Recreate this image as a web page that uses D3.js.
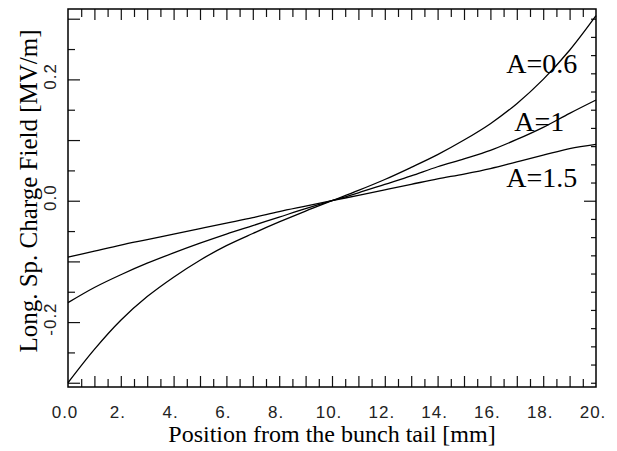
<!DOCTYPE html>
<html>
<head>
	<meta charset="utf-8">
	<title>Long. Sp. Charge Field</title>
	<script type="text/javascript" src="https://cdn.jsdelivr.net/npm/d3@7"></script>
	<style>
		body {
			margin: 0;
			background: #fff;
		}
	</style>
</head>

<body>

	<div id="chart"></div>

	<script>

		// data

		const positions = [0, 1, 2, 3, 4, 5, 6, 7, 8, 9, 10, 11, 12, 13, 14, 15, 16, 17, 18, 19, 20];

		const fieldA06 = [-0.300, -0.245, -0.197, -0.158, -0.126, -0.098, -0.074, -0.054, -0.035, -0.017, 0.000,
			0.017, 0.035, 0.055, 0.076, 0.100, 0.127, 0.160, 0.200, 0.248, 0.305];
		const fieldA1 = [-0.168, -0.143, -0.122, -0.103, -0.086, -0.070, -0.055, -0.041, -0.027, -0.013, 0.000,
			0.013, 0.027, 0.041, 0.056, 0.069, 0.083, 0.101, 0.121, 0.144, 0.166];
		const fieldA15 = [-0.093, -0.083, -0.073, -0.064, -0.055, -0.046, -0.037, -0.028, -0.018, -0.009, 0.000,
			0.009, 0.018, 0.027, 0.036, 0.044, 0.053, 0.064, 0.075, 0.086, 0.093];

		const seriesNames = ["A=0.6", "A=1", "A=1.5"];

		const xTickValues = [0, 2, 4, 6, 8, 10, 12, 14, 16, 18, 20];
		const xTickLabels = ["0.0", "2.", "4.", "6.", "8.", "10.", "12.", "14.", "16.", "18.", "20."];
		const yTickValues = [-0.2, 0.0, 0.2];
		const yTickLabels = ["-0.2", "0.0", "0.2"];

		const xTitle = "Position from the bunch tail [mm]";
		const yTitle = "Long. Sp. Charge Field [MV/m]";

		// layout

		const width  = 617;
		const height = 451;
		const margin = { top: 9, right: 21, bottom: 64, left: 68 };
		const serif  = "'Liberation Serif', 'Times New Roman', serif";
		const sans   = "'Liberation Sans', Arial, sans-serif";

		// where the curve names sit, in data units (x in mm, y in MV/m)
		const labelAnchors = [[16.6, 0.210], [16.9, 0.115], [16.6, 0.023]];

		const svg = d3.select("#chart")
			.append("svg")
			.attr("width", width)
			.attr("height", height)
			.attr("viewBox", [0, 0, width, height]);

		svg.append("rect")
			.attr("width", width)
			.attr("height", height)
			.attr("fill", "#fff");

		const x = d3.scaleLinear([0, 20], [margin.left, width - margin.right]);
		const y = d3.scaleLinear([-0.307, 0.316], [height - margin.bottom, margin.top]);

		const plotW = width - margin.left - margin.right;
		const plotH = height - margin.top - margin.bottom;

		// tick positions (every 0.5 mm along x, 0.05 along y on the left, 0.03 on the right)
		const xMinor = d3.range(0.5, 20, 0.5);
		const yMinor = d3.range(-0.3, 0.301, 0.05).map(v => +v.toFixed(2));
		const yRight = d3.range(-0.3, 0.301, 0.03).map(v => +v.toFixed(2));

		function tickLen(v, major, big, small) {
			return Math.abs(v / major - Math.round(v / major)) < 1e-6 ? big : small;
		}

		const axisStyle = g => g
			.call(g => g.select(".domain").remove())
			.call(g => g.selectAll(".tick text").remove())
			.call(g => g.selectAll(".tick line").attr("stroke", "#111").attr("stroke-width", 1.2));

		// bottom ticks, pointing inward
		svg.append("g")
			.attr("transform", `translate(0,${height - margin.bottom})`)
			.call(d3.axisBottom(x).tickValues(xMinor).tickSize(0))
			.call(axisStyle)
			.call(g => g.selectAll(".tick line").attr("y2", d => -tickLen(d, 1, 11, 8)));

		// top ticks
		svg.append("g")
			.attr("transform", `translate(0,${margin.top})`)
			.call(d3.axisTop(x).tickValues(xMinor).tickSize(0))
			.call(axisStyle)
			.call(g => g.selectAll(".tick line").attr("y2", d => tickLen(d, 1, 11, 8)));

		// left ticks
		svg.append("g")
			.attr("transform", `translate(${margin.left},0)`)
			.call(d3.axisLeft(y).tickValues(yMinor).tickSize(0))
			.call(axisStyle)
			.call(g => g.selectAll(".tick line").attr("x2", d => tickLen(d, 0.1, 12, 7)));

		// right ticks
		svg.append("g")
			.attr("transform", `translate(${width - margin.right},0)`)
			.call(d3.axisRight(y).tickValues(yRight).tickSize(0))
			.call(axisStyle)
			.call(g => g.selectAll(".tick line").attr("x2", d => d === 0 ? -12 : -5));

		// frame
		svg.append("rect")
			.attr("x", margin.left)
			.attr("y", margin.top)
			.attr("width", plotW)
			.attr("height", plotH)
			.attr("fill", "none")
			.attr("stroke", "#000")
			.attr("stroke-width", 1.5);

		// tick labels
		svg.append("g")
			.selectAll("text")
			.data(xTickValues)
			.join("text")
			.attr("x", d => x(d) - 3)
			.attr("y", height - margin.bottom + 31)
			.attr("text-anchor", "middle")
			.attr("font-family", sans)
			.attr("font-size", 17)
			.attr("letter-spacing", 1)
			.attr("fill", "#222")
			.text((d, i) => xTickLabels[i]);

		svg.append("g")
			.selectAll("text")
			.data(yTickValues)
			.join("text")
			.attr("transform", d => `translate(${margin.left - 12},${y(d) - 3}) rotate(-90)`)
			.attr("text-anchor", "middle")
			.attr("font-family", sans)
			.attr("font-size", 17)
			.attr("letter-spacing", 1)
			.attr("fill", "#222")
			.text((d, i) => yTickLabels[i]);

		// axis titles
		svg.append("text")
			.attr("x", x(10))
			.attr("y", height - 9)
			.attr("text-anchor", "middle")
			.attr("font-family", serif)
			.attr("font-size", 24)
			.attr("fill", "#000")
			.text(xTitle);

		svg.append("text")
			.attr("transform", `translate(37,${margin.top + 182}) rotate(-90)`)
			.attr("text-anchor", "middle")
			.attr("font-family", serif)
			.attr("font-size", 25)
			.attr("fill", "#000")
			.text(yTitle);

		// curves
		const series = [fieldA06, fieldA1, fieldA15];

		const line = d3.line()
			.x((d, i) => x(positions[i]))
			.y(d => y(d))
			.curve(d3.curveCatmullRom);

		const plot = svg.append("g");

		plot.selectAll("path")
			.data(series)
			.join("path")
			.attr("d", line)
			.attr("fill", "none")
			.attr("stroke", "#000")
			.attr("stroke-width", 1.3);

		// series labels
		plot.selectAll("text")
			.data(seriesNames)
			.join("text")
			.attr("x", (d, i) => x(labelAnchors[i][0]))
			.attr("y", (d, i) => y(labelAnchors[i][1]))
			.attr("font-family", serif)
			.attr("font-size", 28)
			.attr("fill", "#000")
			.text(d => d);

	</script>

</body>

</html>
